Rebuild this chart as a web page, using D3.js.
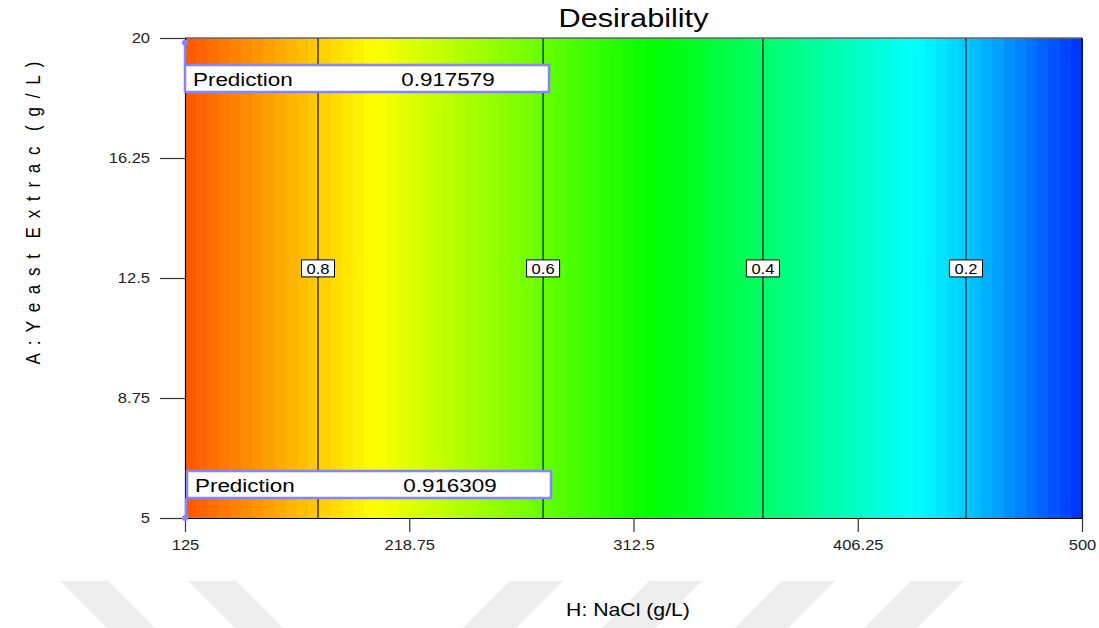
<!DOCTYPE html>
<html>
<head>
<meta charset="utf-8">
<script src="https://cdn.jsdelivr.net/npm/d3@7"></script>
<style>
  html, body { margin: 0; padding: 0; background: #fff; }
  svg { display: block; font-family: "Liberation Sans", Arial, sans-serif; }
</style>
</head>
<body>
<svg id="chart" width="1099" height="628"></svg>
<script>
// ---- data ----
const chartTitle = "Desirability";
const xLabel = "H: NaCl (g/L)";
const yLabel = "A : Y e a s t  E x t r a c  ( g / L )";
const xTicks = [125, 218.75, 312.5, 406.25, 500];
const yTicks = [5, 8.75, 12.5, 16.25, 20];
const xTickLabels = ["125", "218.75", "312.5", "406.25", "500"];
const yTickLabels = ["5", "8.75", "12.5", "16.25", "20"];
// desirability profile along NaCl (independent of yeast extract)
const profileNacl = [125, 180.6, 274.7, 366.6, 451.5, 500];
const profileDesirability = [0.9163, 0.8, 0.6, 0.4, 0.2, 0.045];
// contour lines
const contourLevels = [0.8, 0.6, 0.4, 0.2];
const contourNacl = [180.6, 274.7, 366.6, 451.5];
const contourLabelYeast = 12.8;
// prediction flags
const predNacl = [125, 125];
const predYeast = [19.85, 5];
const predValue = ["0.917579", "0.916309"];
// color map stops (desirability -> colour)
const colorDomain = [0, 0.25, 0.5, 0.75, 1];
const colorRange = ["#0000ff", "#00ffff", "#00ff00", "#ffff00", "#ff0000"];
const nBands = 80;

// ---- layout ----
const svg = d3.select("#chart");
const L = 185, R = 1082, T = 38, B = 518;
const SX = 1.18; // horizontal stretch of glyphs in the reference
const x = d3.scaleLinear().domain([125, 500]).range([L, R]);
const y = d3.scaleLinear().domain([5, 20]).range([B, T]);
const dAt = d3.scaleLinear().domain(profileNacl).range(profileDesirability);
const color = d3.scaleLinear().domain(colorDomain).range(colorRange).clamp(true);

// watermark decoration (background)
const wm = svg.append("g").attr("fill", "#eeeeee");
const back = [60, 188];
const fwd = [510, 649, 782, 911];
back.forEach(a => wm.append("path").attr("d", `M${a},581 L${a+48},581 L${a+95},628 L${a+47},628 Z`));
fwd.forEach(a => wm.append("path").attr("d", `M${a},581 L${a+53},581 L${a+6},628 L${a-47},628 Z`));

// heatmap bands
const bandEdges = d3.range(nBands + 1).map(i => 125 + i * 375 / nBands);
svg.append("g").selectAll("rect").data(d3.range(nBands)).join("rect")
  .attr("x", i => x(bandEdges[i]))
  .attr("width", i => x(bandEdges[i + 1]) - x(bandEdges[i]) + 0.6)
  .attr("y", T).attr("height", B - T)
  .attr("fill", i => color(dAt((bandEdges[i] + bandEdges[i + 1]) / 2)))
  .attr("shape-rendering", "crispEdges");

// contour lines
svg.append("g").selectAll("line").data(contourNacl).join("line")
  .attr("x1", d => x(d)).attr("x2", d => x(d))
  .attr("y1", T).attr("y2", B)
  .attr("stroke", "#111").attr("stroke-width", 1.2);

// contour labels
const cl = svg.append("g").selectAll("g").data(contourLevels).join("g")
  .attr("transform", (d, i) => `translate(${x(contourNacl[i])},${y(contourLabelYeast)})`);
cl.append("rect").attr("x", -16.5).attr("y", -8.5).attr("width", 33).attr("height", 17)
  .attr("fill", "#fff").attr("stroke", "#000").attr("stroke-width", 1);
cl.append("text").attr("transform", `scale(${SX},1)`).attr("y", 5.5)
  .attr("text-anchor", "middle").attr("font-size", 14).attr("fill", "#000")
  .text(d => d.toString());

// frame
svg.append("line").attr("x1", L).attr("x2", R).attr("y1", T).attr("y2", T).attr("stroke", "#666").attr("stroke-width", 1.5);
svg.append("line").attr("x1", R).attr("x2", R).attr("y1", T).attr("y2", B).attr("stroke", "#111").attr("stroke-width", 1.5);

// axes
const xAxis = d3.axisBottom(x).tickValues(xTicks).tickSize(14).tickSizeOuter(0)
  .tickFormat((d, i) => xTickLabels[i]);
const gx = svg.append("g").attr("transform", `translate(0,${B})`).call(xAxis);
gx.select(".domain").attr("stroke", "#000").attr("stroke-width", 1.2)
  .attr("d", `M160,0.5H${R}`);
gx.selectAll(".tick line").attr("stroke", "#333").attr("stroke-width", 1.2);
gx.selectAll(".tick text").attr("font-size", 14).attr("fill", "#222")
  .attr("font-family", "Liberation Sans, Arial, sans-serif")
  .attr("dy", null).attr("y", 32)
  .attr("transform", `scale(${SX},1)`)
  .attr("x", function() { return 0; });
// compensate horizontal scale of tick text: put scaling around tick origin
gx.selectAll(".tick text").attr("transform", `scale(${SX},1)`);

const yAxis = d3.axisLeft(y).tickValues(yTicks).tickSize(25).tickSizeOuter(0)
  .tickFormat((d, i) => yTickLabels[i]);
const gy = svg.append("g").attr("transform", `translate(${L},0)`).call(yAxis);
gy.select(".domain").attr("stroke", "#000").attr("stroke-width", 1.2)
  .attr("d", `M0.5,${T}V${B}`);
gy.selectAll(".tick line").attr("stroke", "#333").attr("stroke-width", 1.2);
gy.selectAll(".tick text").attr("font-size", 14).attr("fill", "#222")
  .attr("font-family", "Liberation Sans, Arial, sans-serif")
  .attr("x", -35 / SX).attr("dy", "0.35em")
  .attr("transform", `scale(${SX},1)`);

// prediction flags
const flagColor = "#8585ff";
predNacl.forEach((n, i) => {
  const px = x(n), py = y(predYeast[i]);
  const top = i === 0;
  const bx = px + (top ? 0 : 2), by = top ? 65 : 471, bw = 364, bh = 27;
  const g = svg.append("g");
  g.append("line").attr("x1", px + (top ? 0 : 1)).attr("x2", px + (top ? 0 : 1))
    .attr("y1", py).attr("y2", top ? by : by + bh)
    .attr("stroke", flagColor).attr("stroke-width", 2.5);
  g.append("circle").attr("cx", px).attr("cy", py).attr("r", 3).attr("fill", flagColor);
  g.append("rect").attr("x", bx).attr("y", by).attr("width", bw).attr("height", bh)
    .attr("fill", "#fff").attr("stroke", flagColor).attr("stroke-width", 2.5);
  g.append("text").attr("transform", `translate(${bx + 8},${by + 21}) scale(${SX},1)`)
    .attr("font-size", 19).attr("fill", "#000").text("Prediction");
  g.append("text").attr("transform", `translate(${bx + 263},${by + 21}) scale(${SX},1)`)
    .attr("text-anchor", "middle").attr("font-size", 19).attr("fill", "#000").text(predValue[i]);
});

// title and axis labels
svg.append("text").attr("transform", `translate(${(L + R) / 2},27) scale(${SX},1)`)
  .attr("text-anchor", "middle").attr("font-size", 26).attr("fill", "#000").text(chartTitle);
svg.append("text").attr("transform", `translate(628,616) scale(${SX},1)`)
  .attr("text-anchor", "middle").attr("font-size", 18).attr("fill", "#000").text(xLabel);
svg.append("text").attr("transform", `translate(40,213) scale(${SX},1) rotate(-90)`)
  .attr("text-anchor", "middle").attr("font-size", 17).attr("fill", "#000")
  .attr("textLength", 303).attr("lengthAdjust", "spacing")
  .style("white-space", "pre").text(yLabel);
</script>
</body>
</html>
